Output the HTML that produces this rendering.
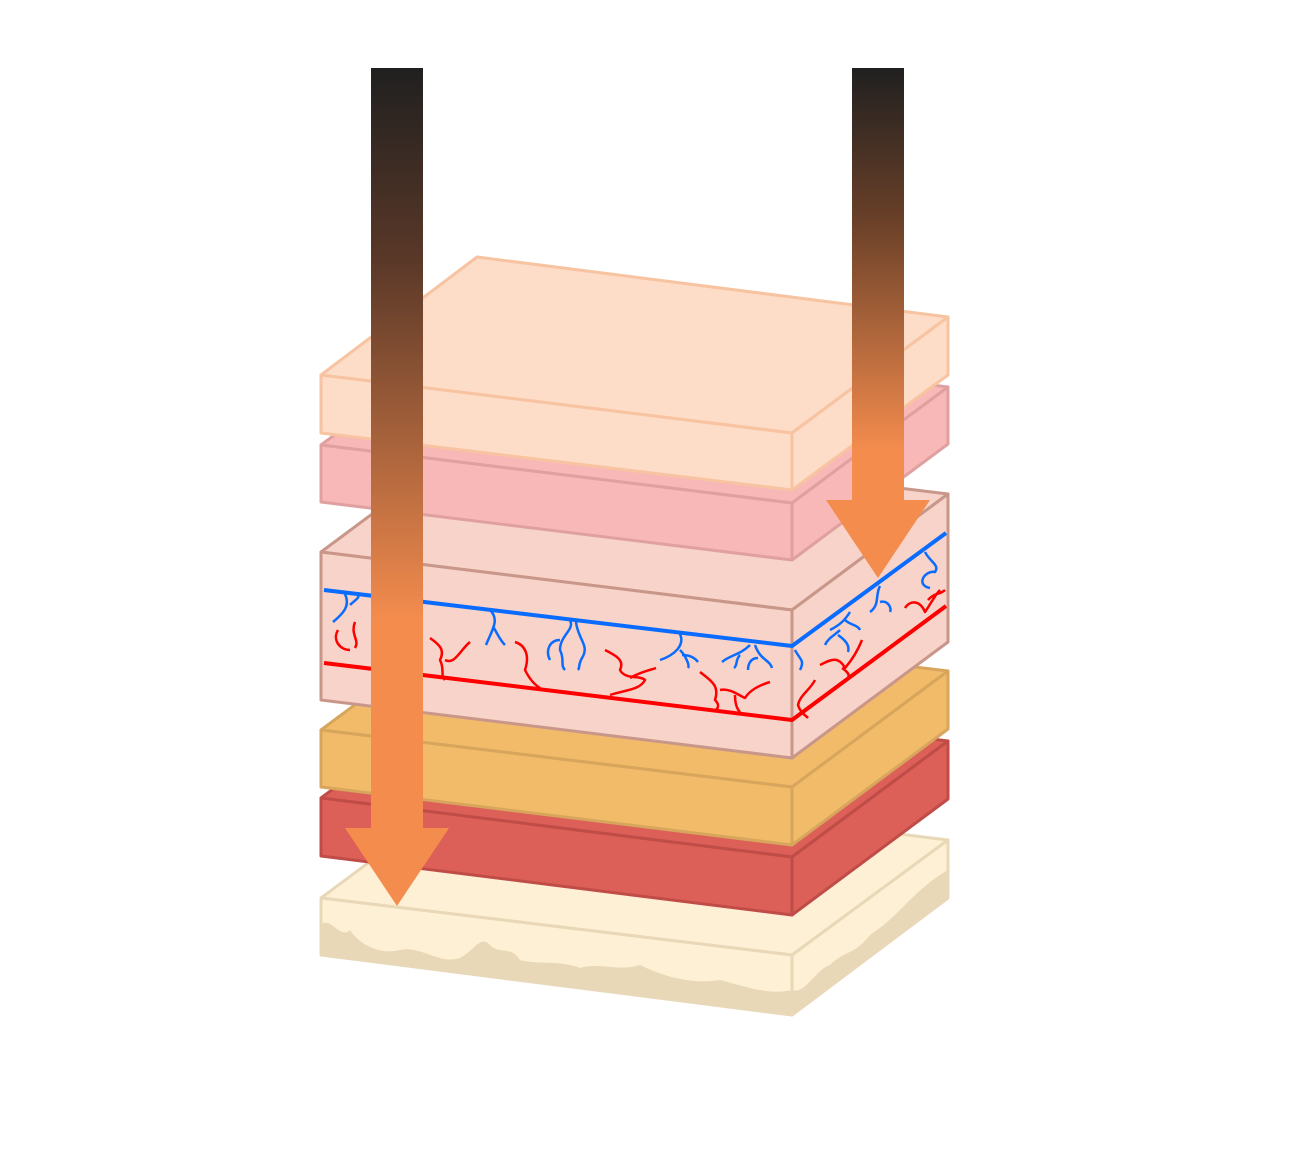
<!DOCTYPE html>
<html><head><meta charset="utf-8"><style>html,body{margin:0;padding:0;background:#fff}svg{display:block}</style></head>
<body>
<svg width="1296" height="1159" viewBox="0 0 1296 1159" xmlns="http://www.w3.org/2000/svg">
<defs>
<linearGradient id="gL" x1="0" y1="68" x2="0" y2="620" gradientUnits="userSpaceOnUse">
<stop offset="0" stop-color="#202020"/><stop offset="0.35" stop-color="#5a3828"/><stop offset="1" stop-color="#f48c4e"/></linearGradient>
<linearGradient id="gR" x1="0" y1="68" x2="0" y2="450" gradientUnits="userSpaceOnUse">
<stop offset="0" stop-color="#202020"/><stop offset="0.4" stop-color="#6a4028"/><stop offset="1" stop-color="#f48c4e"/></linearGradient>
</defs>
<g stroke-width="3" stroke-linejoin="round">
<!-- bottom layer -->
<g fill="#fef0d4" stroke="#e8d8b8">
<polygon points="321,898 477,782 948,840 792,955"/>
<polygon points="321,898 792,955 792,1015 321,955"/>
<polygon points="792,955 948,840 948,898 792,1015"/>
</g>
<path d="M321,955 L321,925 C330,915 340,940 350,930 C360,945 380,955 400,950 C420,945 440,965 460,958 C475,950 480,935 490,945 C500,955 510,945 520,960 C540,965 560,960 580,968 C600,962 620,972 640,965 C660,975 690,985 720,980 C750,988 770,995 792,990 L792,1015 Z" fill="#e8d8b8"/>
<path d="M792,1015 L792,990 C805,995 815,970 830,965 C845,950 855,955 870,935 C885,925 895,915 905,905 C915,895 930,880 948,870 L948,898 Z" fill="#e8d8b8"/>
<!-- red layer -->
<g fill="#dc6058" stroke="#c04c48">
<polygon points="321,798 477,682 948,741 792,857"/>
<polygon points="321,798 792,857 792,915 321,856"/>
<polygon points="792,857 948,741 948,799 792,915"/>
</g>
<!-- yellow layer -->
<g fill="#f2bb6a" stroke="#d7a55b">
<polygon points="321,730 477,614 948,671 792,787"/>
<polygon points="321,730 792,787 792,845 321,787"/>
<polygon points="792,787 948,671 948,729 792,845"/>
</g>
<!-- dermis -->
<g fill="#f7d3c9" stroke="#c9978a">
<polygon points="321,552 477,436 948,494 792,610"/>
<polygon points="321,552 792,610 792,758 321,700"/>
<polygon points="792,610 948,494 948,642 792,758"/>
</g>
<polyline points="324,590 792,646 946,533" fill="none" stroke="#0a6cff" stroke-width="4"/>
<polyline points="324,663 792,720 946,606" fill="none" stroke="#ff0000" stroke-width="4"/>
<g fill="none" stroke="#0a6cff" stroke-width="2.5">
<path d="M345,594 C350,605 345,612 333,622 M350,605 C355,600 360,598 358,594"/>
<path d="M490,610 C500,620 492,630 486,645 M494,628 C498,635 500,640 505,645"/>
<path d="M570,620 C575,630 560,635 560,650 C565,660 560,665 565,670 M560,640 C550,640 545,650 550,660 M576,622 C578,640 590,645 582,658 C578,665 580,668 578,670"/>
<path d="M680,634 C685,645 675,655 660,660 M680,650 C685,655 690,665 688,668 M682,655 C690,655 695,658 698,662"/>
<path d="M750,645 C740,655 730,655 722,662 M740,655 C735,660 738,665 734,668 M755,645 C760,660 770,660 772,668 M758,658 C750,658 748,665 748,670"/>
<path d="M795,650 C800,660 805,660 800,670 M880,586 C875,595 880,605 870,612 M880,602 C888,600 892,608 890,612 M925,552 C930,562 940,565 935,572 C925,570 915,585 930,588 M850,612 C845,620 840,625 830,630 M845,620 C850,625 858,625 860,630 M840,630 C835,635 828,638 825,645 M838,635 C845,640 850,645 848,652"/>
</g>
<g fill="none" stroke="#ff0000" stroke-width="2.5">
<path d="M355,622 C350,635 360,640 355,648 M338,630 C332,640 340,650 350,650"/>
<path d="M430,638 C440,645 445,650 440,660 C445,670 440,675 445,680 M445,660 C455,665 460,650 470,642"/>
<path d="M515,642 C525,645 530,655 525,670 C530,680 535,685 540,688"/>
<path d="M605,650 C615,655 625,660 620,670 C625,680 640,675 645,680 C640,690 625,690 610,695 M630,678 C640,672 650,670 656,668"/>
<path d="M700,672 C710,680 720,685 715,700 C720,705 718,708 716,710 M720,690 C730,688 738,695 745,698 C750,690 760,685 770,682 M735,695 C735,705 738,710 740,712"/>
<path d="M815,680 C810,690 800,695 798,705 C800,712 805,715 808,718 M820,665 C830,660 838,655 845,668 C852,660 858,650 862,640 M842,668 C848,672 850,675 848,678 M905,608 C910,600 920,600 925,612 C930,605 935,595 940,590 M928,600 C935,592 940,595 945,590"/>
</g>
<!-- pink layer -->
<g fill="#f9b8b8" stroke="#e0a0a0">
<polygon points="321,445 477,329 948,387 792,503"/>
<polygon points="321,445 792,503 792,560 321,502"/>
<polygon points="792,503 948,387 948,444 792,560"/>
</g>
<!-- top layer -->
<g fill="#fddcc8" stroke="#f7c3a0">
<polygon points="321,375 477,257 948,317 792,433"/>
<polygon points="321,375 792,433 792,490 321,433"/>
<polygon points="792,433 948,317 948,375 792,490"/>
</g>
</g>
<!-- arrows -->
<polygon points="371,68 423,68 423,828 449,828 397,906 345,828 371,828" fill="url(#gL)"/>
<polygon points="852,68 904,68 904,500 930,500 878,578 826,500 852,500" fill="url(#gR)"/>
</svg>
</body></html>
